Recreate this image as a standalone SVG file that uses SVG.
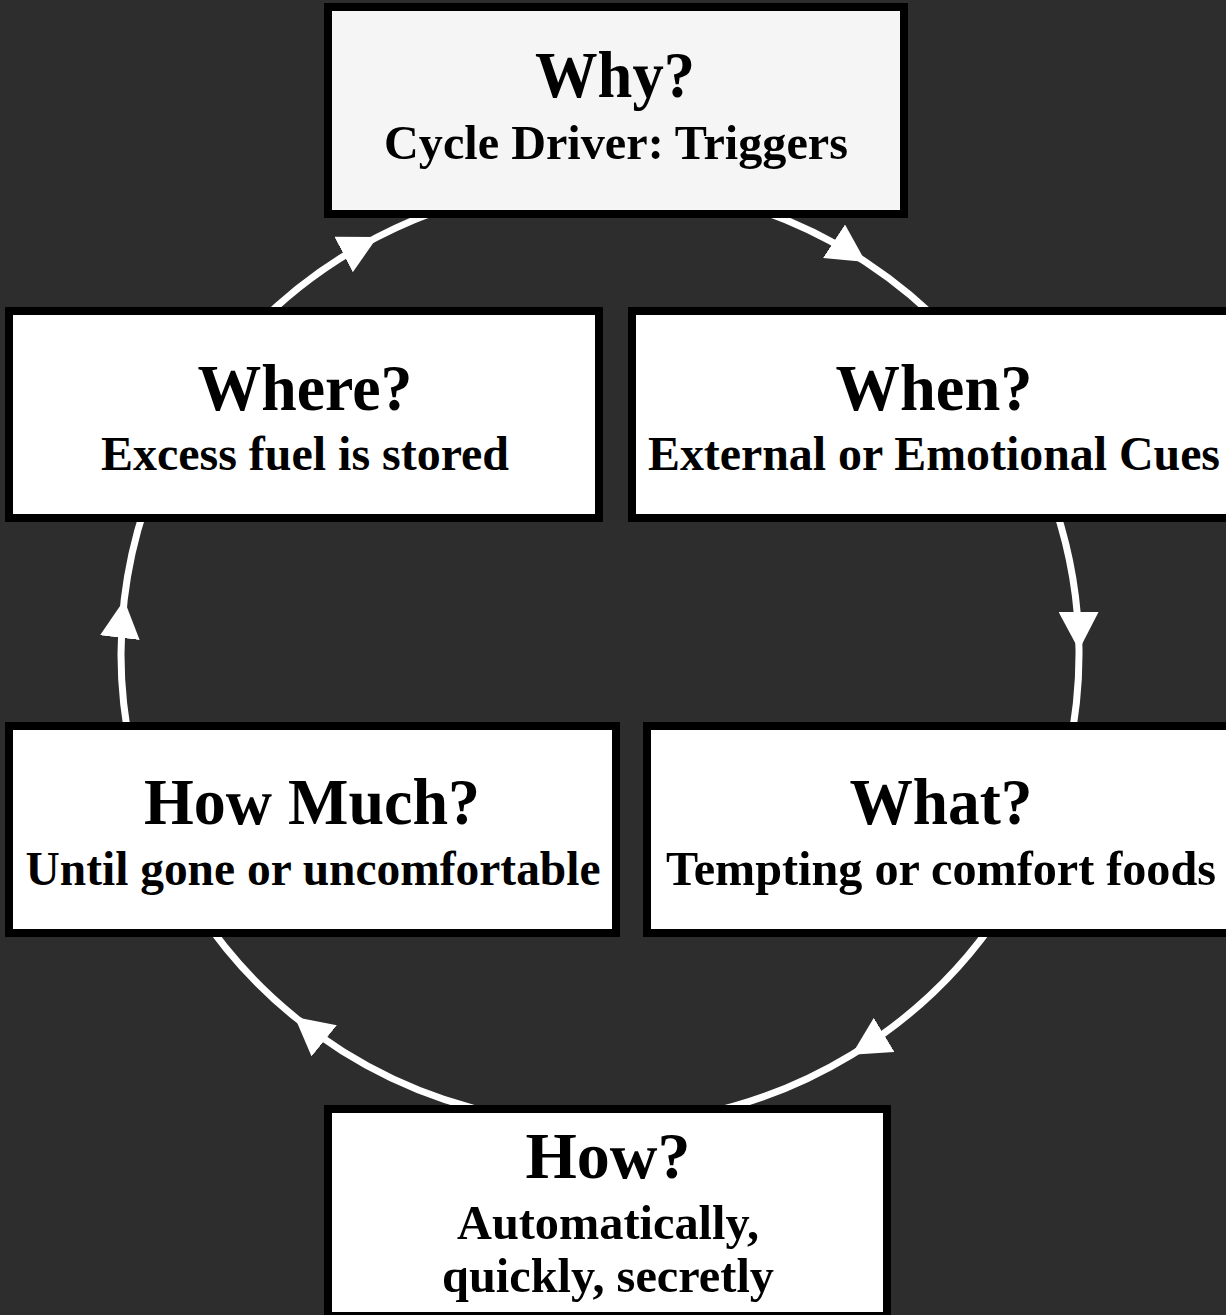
<svg xmlns="http://www.w3.org/2000/svg" width="1226" height="1315" viewBox="0 0 1226 1315">
  <style>
    .box { fill: #ffffff; stroke: #000000; stroke-width: 8; }
    .box.root { fill: #f5f5f5; }
    .edge { fill: none; stroke: #ffffff; stroke-width: 7; marker-mid: url(#arrow); }
    text { font-family: "Liberation Serif", "Times New Roman", serif; font-weight: bold; fill: #000000; text-anchor: middle; }
    .title { font-size: 66px; }
    .sub { font-size: 48px; }
  </style>
  <defs>
    <marker id="arrow" markerUnits="userSpaceOnUse" viewBox="0 0 38 40" markerWidth="38" markerHeight="40" refX="38" refY="20" orient="auto">
      <path d="M0,0 L38,20 L0,40 z" fill="#ffffff"/>
    </marker>
  </defs>
  <rect x="0" y="0" width="1226" height="1315" fill="#2d2d2d"/>

  <g id="connectors">
    <path id="e-where-why" class="edge" d="M244.0,338.8 A479,471 0 0,1 377.4,237.0 A479,471 0 0,1 452.0,206.0"/>
    <path id="e-why-when" class="edge" d="M748.0,206.0 A479,471 0 0,1 865.8,262.1 A479,471 0 0,1 950.3,332.8"/>
    <path id="e-when-what" class="edge" d="M1050.1,492.9 A479,471 0 0,1 1079.0,649.9 A479,471 0 0,1 1068.5,751.9"/>
    <path id="e-what-how" class="edge" d="M1001.7,910.5 A479,471 0 0,1 851.7,1054.7 A479,471 0 0,1 699.6,1114.7"/>
    <path id="e-how-howmuch" class="edge" d="M500.4,1114.7 A479,471 0 0,1 294.7,1016.9 A479,471 0 0,1 198.3,910.5"/>
    <path id="e-howmuch-where" class="edge" d="M131.5,751.9 A479,471 0 0,1 124.2,599.9 A479,471 0 0,1 149.9,492.9"/>
  </g>

  <g id="node-why">
    <rect class="box root" x="328" y="7" width="576" height="207"/>
    <text class="title" x="615" y="97" textLength="160" lengthAdjust="spacingAndGlyphs">Why?</text>
    <text class="sub" x="616" y="159" textLength="464" lengthAdjust="spacingAndGlyphs">Cycle Driver: Triggers</text>
  </g>
  <g id="node-when">
    <rect class="box" x="632" y="311" width="606" height="207"/>
    <text class="title" x="934" y="410" textLength="197" lengthAdjust="spacingAndGlyphs">When?</text>
    <text class="sub" x="934" y="470" textLength="572" lengthAdjust="spacingAndGlyphs">External or Emotional Cues</text>
  </g>
  <g id="node-what">
    <rect class="box" x="647" y="726" width="590" height="207"/>
    <text class="title" x="941" y="824" textLength="183" lengthAdjust="spacingAndGlyphs">What?</text>
    <text class="sub" x="941" y="885" textLength="550" lengthAdjust="spacingAndGlyphs">Tempting or comfort foods</text>
  </g>
  <g id="node-how">
    <rect class="box" x="328" y="1109" width="559" height="207"/>
    <text class="title" x="608" y="1178" textLength="165" lengthAdjust="spacingAndGlyphs">How?</text>
    <text class="sub" x="608" y="1239" textLength="302" lengthAdjust="spacingAndGlyphs">Automatically,</text>
    <text class="sub" x="608" y="1292" textLength="332" lengthAdjust="spacingAndGlyphs">quickly, secretly</text>
  </g>
  <g id="node-howmuch">
    <rect class="box" x="9" y="726" width="607" height="207"/>
    <text class="title" x="312" y="824" textLength="336" lengthAdjust="spacingAndGlyphs">How Much?</text>
    <text class="sub" x="313" y="885" textLength="575" lengthAdjust="spacingAndGlyphs">Until gone or uncomfortable</text>
  </g>
  <g id="node-where">
    <rect class="box" x="9" y="311" width="590" height="207"/>
    <text class="title" x="305" y="410" textLength="215" lengthAdjust="spacingAndGlyphs">Where?</text>
    <text class="sub" x="305" y="470" textLength="408" lengthAdjust="spacingAndGlyphs">Excess fuel is stored</text>
  </g>
</svg>
